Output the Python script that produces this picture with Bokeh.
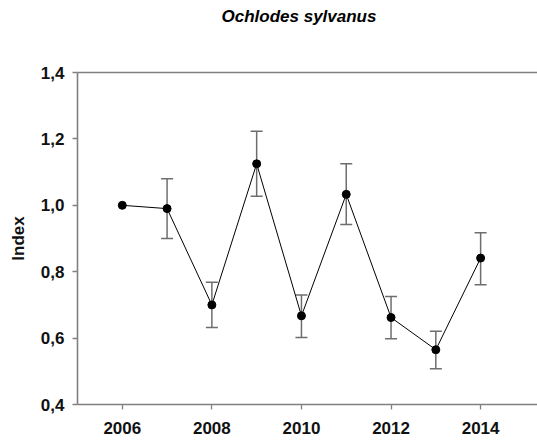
from bokeh.plotting import figure
from bokeh.models import ColumnDataSource, Whisker, TeeHead, LinearAxis, Range1d, FixedTicker, Title
from bokeh.embed import file_html
from bokeh.resources import INLINE

years = [2006, 2007, 2008, 2009, 2010, 2011, 2012, 2013, 2014]
index = [1.0, 0.99, 0.70, 1.125, 0.667, 1.033, 0.662, 0.565, 0.841]
err_years = [2007, 2008, 2009, 2010, 2011, 2012, 2013, 2014]
err_upper = [1.08, 0.768, 1.223, 0.730, 1.125, 0.725, 0.621, 0.917]
err_lower = [0.90, 0.632, 1.027, 0.602, 0.942, 0.598, 0.508, 0.761]
x_ticks = [2006, 2008, 2010, 2012, 2014]
y_ticks = [0.4, 0.6, 0.8, 1.0, 1.2, 1.4]
y_tick_labels = ["0,4", "0,6", "0,8", "1,0", "1,2", "1,4"]
title_text = "Ochlodes sylvanus"
y_label = "Index"

FONT = "Liberation Sans"
AXC = "#808080"

p = figure(width=537, height=440, output_backend="svg", toolbar_location=None,
           x_range=Range1d(2005.0, 2015.27), y_range=Range1d(0.4, 1.4),
           min_border_left=77, min_border_right=0, min_border_top=72, min_border_bottom=36,
           x_axis_location=None, y_axis_location=None)
p.outline_line_color = None
p.grid.visible = False
p.background_fill_color = "white"
p.border_fill_color = "white"

top = LinearAxis(ticker=FixedTicker(ticks=[]))
top.axis_line_color = AXC
top.axis_line_width = 1.6
top.major_tick_line_color = None
top.minor_tick_line_color = None
top.major_label_text_font_size = "0px"
top.major_tick_out = 0
top.major_label_standoff = 0
p.add_layout(top, "above")

spacer = Title(text=" ", text_font=FONT, text_font_size="17px", standoff=26)
p.add_layout(spacer, "above")

t = Title(text=title_text, align="left", text_font=FONT,
          text_font_size="17px", text_font_style="bold italic", text_color="black",
          standoff=0, offset=144)
p.add_layout(t, "above")

xa = LinearAxis(ticker=FixedTicker(ticks=x_ticks))
ya = LinearAxis(ticker=FixedTicker(ticks=y_ticks), axis_label=y_label)
ya.major_label_overrides = {v: s for v, s in zip(y_ticks, y_tick_labels)}
for ax in (xa, ya):
    ax.axis_line_color = AXC
    ax.axis_line_width = 1.6
    ax.major_tick_line_color = AXC
    ax.major_tick_line_width = 1.3
    ax.major_tick_out = 5
    ax.major_tick_in = 0
    ax.minor_tick_line_color = None
    ax.major_label_text_font = FONT
    ax.major_label_text_font_size = "17px"
    ax.major_label_text_font_style = "bold"
    ax.major_label_text_color = "#111111"
xa.major_label_standoff = 12
ya.major_label_standoff = 8
ya.axis_label_text_font = FONT
ya.axis_label_text_font_size = "17px"
ya.axis_label_text_font_style = "bold"
ya.axis_label_text_color = "#111111"
ya.axis_label_standoff = 10
p.add_layout(xa, "below")
p.add_layout(ya, "left")

src = ColumnDataSource(dict(x=years, y=index))
esrc = ColumnDataSource(dict(x=err_years, upper=err_upper, lower=err_lower))

w = Whisker(source=esrc, base="x", upper="upper", lower="lower", dimension="height",
            line_color="#6e6e6e", line_width=1.5,
            upper_head=TeeHead(size=12, line_color="#6e6e6e", line_width=1.5),
            lower_head=TeeHead(size=12, line_color="#6e6e6e", line_width=1.5))
p.add_layout(w)

p.line("x", "y", source=src, line_color="black", line_width=1)
p.scatter("x", "y", source=src, size=8, fill_color="black", line_color="black")

open("out.html", "w").write(file_html(p, INLINE))
